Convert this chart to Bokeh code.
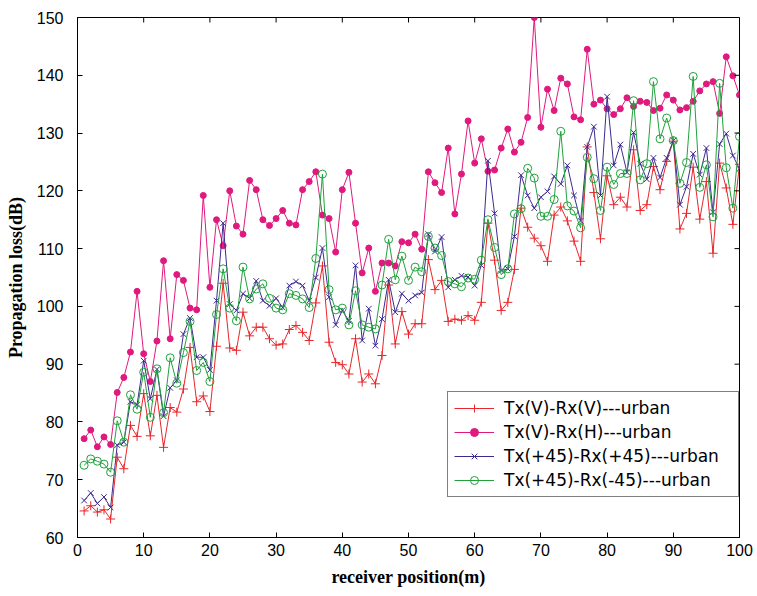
import math
from bokeh.plotting import figure
from bokeh.models import Range1d, FixedTicker, Legend, LegendItem
from bokeh.embed import file_html
from bokeh.resources import INLINE

positions = list(range(1, 101))

tx_v_rx_v = [64.6, 65.5, 64.4, 64.8, 63.2, 73.9, 71.9, 79.4, 77.5, 84.9,
             77.6, 84.6, 75.6, 82.5, 81.7, 85.7, 92.9, 83.5, 84.5, 81.8,
             93.1, 104.0, 92.8, 92.4, 99.0, 94.9, 96.4, 96.4, 94.4, 93.3,
             93.5, 96.0, 96.7, 95.5, 94.1, 100.6, 107.0, 93.8, 90.3, 89.9,
             88.3, 94.4, 86.9, 88.3, 86.6, 91.5, 103.7, 93.5, 99.1, 95.2,
             97.0, 97.0, 108.1, 102.9, 104.5, 97.4, 97.8, 97.6, 98.4, 97.6,
             100.7, 114.4, 108.0, 99.3, 100.7, 106.4, 117.0, 113.7, 111.8, 110.5,
             107.8, 115.8, 117.2, 114.8, 111.3, 107.8, 127.6, 119.7, 111.7, 122.6,
             117.6, 118.9, 117.2, 127.1, 116.6, 117.6, 124.2, 120.2, 125.1, 128.6,
             113.4, 116.1, 124.1, 115.1, 121.6, 109.2, 124.8, 120.5, 114.2, 124.6]

tx_v_rx_h = [77.1, 78.6, 75.7, 77.4, 76.1, 85.1, 87.7, 92.1, 102.6, 91.8,
             87.0, 94.0, 107.9, 94.4, 105.5, 104.5, 99.7, 99.4, 119.2, 103.3,
             115.0, 110.5, 120.0, 113.9, 112.5, 121.8, 120.2, 115.0, 114.0, 115.2,
             116.6, 114.4, 114.1, 120.2, 121.6, 123.3, 115.8, 115.2, 109.4, 120.2,
             123.2, 114.4, 105.8, 110.1, 102.6, 107.5, 107.5, 107.0, 111.2, 111.0,
             112.5, 109.9, 123.3, 121.4, 119.7, 127.4, 116.0, 122.9, 132.1, 124.8,
             129.0, 123.4, 123.6, 127.4, 130.7, 126.7, 128.4, 132.7, 150.0, 131.0,
             137.6, 133.9, 139.5, 138.5, 132.8, 132.3, 144.5, 135.0, 135.7, 134.2,
             133.2, 134.2, 136.1, 134.6, 135.5, 135.3, 133.9, 134.3, 136.6, 135.7,
             134.0, 134.4, 135.5, 137.3, 138.5, 138.9, 133.4, 143.2, 139.9, 136.6]

tx_p45_rx_p45 = [66.4, 67.7, 65.9, 67.0, 65.2, 76.0, 76.5, 83.5, 83.0, 90.6,
                 84.0, 89.1, 81.0, 85.9, 87.2, 95.2, 98.0, 91.2, 91.2, 89.0,
                 101.0, 114.4, 100.4, 99.3, 102.2, 101.4, 104.4, 101.0, 100.1, 101.4,
                 99.8, 103.6, 104.3, 103.6, 101.0, 105.0, 110.1, 101.6, 96.8, 99.3,
                 97.5, 107.1, 94.1, 99.6, 93.2, 97.8, 104.6, 99.0, 102.2, 101.0,
                 101.9, 102.4, 112.5, 109.5, 112.0, 103.3, 104.6, 105.3, 105.1, 103.6,
                 107.1, 125.2, 116.1, 106.2, 106.5, 112.1, 122.7, 119.2, 117.0, 118.9,
                 119.9, 122.5, 121.2, 124.4, 119.2, 114.8, 127.6, 131.1, 119.2, 136.3,
                 124.4, 128.0, 123.2, 130.1, 124.7, 122.0, 125.7, 122.3, 125.7, 128.7,
                 117.6, 120.7, 126.4, 122.8, 127.4, 116.3, 128.1, 129.9, 126.1, 123.8]

tx_p45_rx_m45 = [72.5, 73.6, 73.2, 72.7, 71.3, 80.2, 76.5, 84.7, 82.2, 88.6,
                 80.8, 89.2, 81.6, 91.1, 86.7, 92.0, 97.4, 88.9, 90.3, 87.0,
                 98.6, 106.5, 99.7, 97.5, 106.8, 101.3, 103.0, 103.9, 101.4, 99.7,
                 99.4, 102.2, 101.9, 101.3, 99.8, 108.3, 122.9, 102.9, 99.4, 99.7,
                 96.8, 102.7, 96.8, 96.4, 96.1, 103.7, 111.6, 104.6, 108.7, 104.5,
                 106.8, 106.0, 112.1, 110.1, 108.8, 104.3, 103.9, 103.4, 104.9, 104.7,
                 108.0, 115.0, 110.2, 105.5, 106.5, 116.0, 116.9, 123.9, 122.2, 115.6,
                 115.6, 118.5, 130.3, 117.4, 116.5, 113.6, 125.8, 122.1, 116.6, 124.1,
                 121.1, 123.0, 123.0, 135.6, 121.9, 124.7, 138.9, 129.0, 132.6, 128.7,
                 121.3, 124.9, 139.8, 120.6, 124.5, 115.5, 138.6, 124.0, 117.0, 129.4]

labels = ["Tx(V)-Rx(V)---urban", "Tx(V)-Rx(H)---urban",
          "Tx(+45)-Rx(+45)---urban", "Tx(+45)-Rx(-45)---urban"]
x_ticks = [0, 10, 20, 30, 40, 50, 60, 70, 80, 90, 100]
y_ticks = [60, 70, 80, 90, 100, 110, 120, 130, 140, 150]
X_MIN, X_MAX = 0, 100
Y_MIN, Y_MAX = 60, 150

RED = "#e8262b"
MAG = "#e0197e"
BLUE = "#3c2a90"
GREEN = "#1fa23c"

p = figure(width=757, height=596, x_range=Range1d(X_MIN, X_MAX), y_range=Range1d(Y_MIN, Y_MAX),
           output_backend="svg", toolbar_location=None,
           min_border_left=77, min_border_right=18, min_border_top=17, min_border_bottom=59)
p.xgrid.visible = False
p.ygrid.visible = False
p.outline_line_color = "black"
p.outline_line_width = 1
p.background_fill_color = "white"
p.border_fill_color = "white"

r1l = p.line(positions, tx_v_rx_v, line_color=RED, line_width=1)
r1m = p.scatter(positions, tx_v_rx_v, marker="cross", size=9, line_color=RED, line_width=1)
r2l = p.line(positions, tx_v_rx_h, line_color=MAG, line_width=1)
r2m = p.scatter(positions, tx_v_rx_h, marker="circle", size=6, line_color=MAG, fill_color=MAG)
r3l = p.line(positions, tx_p45_rx_p45, line_color=BLUE, line_width=1)
r3m = p.scatter(positions, tx_p45_rx_p45, marker="x", size=8, line_color=BLUE, line_width=1)
r4l = p.line(positions, tx_p45_rx_m45, line_color=GREEN, line_width=1)
r4m = p.scatter(positions, tx_p45_rx_m45, marker="circle", size=8, line_color=GREEN,
                fill_alpha=0, line_width=1)

for ax in (p.xaxis[0], p.yaxis[0]):
    ax.major_tick_in = 5
    ax.major_tick_out = 0
    ax.minor_tick_in = 0
    ax.minor_tick_out = 0
    ax.axis_line_color = "black"
    ax.major_label_text_font = "Liberation Sans"
    ax.major_label_text_font_size = "16px"
    ax.major_label_text_color = "black"
    ax.axis_label_text_font = "Liberation Serif"
    ax.axis_label_text_font_style = "bold"
    ax.axis_label_text_font_size = "18px"
    ax.axis_label_text_color = "black"

p.xaxis[0].ticker = FixedTicker(ticks=x_ticks)
p.yaxis[0].ticker = FixedTicker(ticks=y_ticks)
p.xaxis[0].axis_label = "receiver position(m)"
p.yaxis[0].axis_label = "Propagation loss(dB)"
p.xaxis[0].major_label_standoff = 6
p.yaxis[0].major_label_standoff = 14
p.xaxis[0].axis_label_standoff = 8
p.yaxis[0].axis_label_standoff = 8

# mirrored inward ticks on the top and right frame edges (box on)
p.ray(x=x_ticks, y=[Y_MAX] * len(x_ticks), length=5, length_units="screen",
      angle=-math.pi / 2, line_color="black", line_width=1)
p.ray(x=[X_MAX] * len(y_ticks), y=y_ticks, length=5, length_units="screen",
      angle=math.pi, line_color="black", line_width=1)

legend = Legend(items=[
    LegendItem(label=labels[0], renderers=[r1l, r1m]),
    LegendItem(label=labels[1], renderers=[r2l, r2m]),
    LegendItem(label=labels[2], renderers=[r3l, r3m]),
    LegendItem(label=labels[3], renderers=[r4l, r4m]),
], location=(370, 40))
legend.border_line_color = "black"
legend.border_line_width = 1
legend.label_text_font = "DejaVu Sans"
legend.label_text_font_size = "17px"
legend.label_text_color = "black"
legend.glyph_width = 40
legend.glyph_height = 20
legend.label_height = 20
legend.label_width = 228
legend.label_standoff = 10
legend.spacing = 4
legend.padding = 6
legend.margin = 0
legend.background_fill_alpha = 1
p.add_layout(legend, "center")

open("out.html", "w").write(file_html(p, INLINE))
